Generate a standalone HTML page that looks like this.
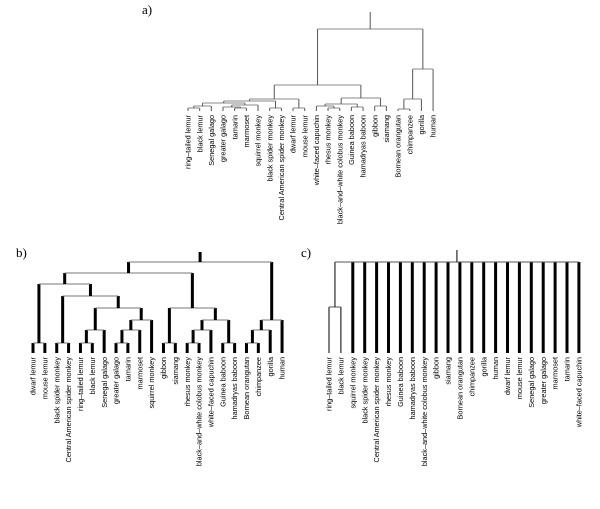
<!DOCTYPE html>
<html><head><meta charset="utf-8"><style>
html,body{margin:0;padding:0;background:#fff;}
svg{display:block;}
.lbl{font-family:"Liberation Sans",sans-serif;font-size:7.3px;fill:#000;}
.tag{font-family:"Liberation Serif",serif;font-size:13px;fill:#000;}
</style></head><body>
<svg id="fig" width="600" height="509" viewBox="0 0 600 509">
<text class="tag" x="142" y="14">a)</text>
<text class="tag" x="16" y="257">b)</text>
<text class="tag" x="301" y="257">c)</text>
<g id="pa"></g>
<g id="pb"></g>
<g id="pc"></g>
</svg>
<script>
// ---- data ----
const leavesA = ["ring\u2013tailed lemur","black lemur","Senegal galago","greater galago","tamarin","marmoset","squirrel monkey","black spider monkey","Central American spider monkey","dwarf lemur","mouse lemur","white\u2013faced capuchin","rhesus monkey","black\u2013and\u2013white colobus monkey","Guinea baboon","hamadryas baboon","gibbon","siamang","Bornean orangutan","chimpanzee","gorilla","human"];
// merges: [children (negative = leaf, positive = merge index 1-based), height]
const mergesA = [[[-1,-2],3],[[1,-3],5],[[-5,-6],3],[[-4,3],4],[[4,-7],6],[[2,5],8],[[-8,-9],3],[[6,7],10],[[-10,-11],3],[[8,9],12],[[-13,-14],3],[[-12,11],5],[[-15,-16],4],[[12,13],7],[[-17,-18],5],[[14,15],13],[[10,16],26],[[-19,-20],2],[[18,-21],12],[[19,-22],42],[[17,20],82]];
const rootStemA = 99;

const leavesB = ["dwarf lemur","mouse lemur","black spider monkey","Central American spider monkey","ring\u2013tailed lemur","black lemur","Senegal galago","greater galago","tamarin","marmoset","squirrel monkey","gibbon","siamang","rhesus monkey","black\u2013and\u2013white colobus monkey","white\u2013faced capuchin","Guinea baboon","hamadryas baboon","Bornean orangutan","chimpanzee","gorilla","human"];
const mergesB = [[[-1,-2],10],[[-3,-4],10],[[-5,-6],10],[[3,-7],23],[[-8,-9],10],[[5,-10],23],[[6,-11],33],[[4,7],45],[[2,8],57],[[1,9],69],[[-12,-13],10],[[-14,-15],10],[[12,-16],23],[[-17,-18],10],[[13,14],33],[[11,15],45],[[10,16],80],[[-19,-20],10],[[18,-21],23],[[19,-22],33],[[17,20],91]];
const rootStemB = 101;

const leavesC = ["ring\u2013tailed lemur","black lemur","squirrel monkey","black spider monkey","Central American spider monkey","rhesus monkey","Guinea baboon","hamadryas baboon","black\u2013and\u2013white colobus monkey","gibbon","siamang","Bornean orangutan","chimpanzee","gorilla","human","dwarf lemur","mouse lemur","Senegal galago","greater galago","marmoset","tamarin","white\u2013faced capuchin"];
const mergesC = [[[-1,-2],46],[[1,-3,-4,-5,-6,-7,-8,-9,-10,-11,-12,-13,-14,-15,-16,-17,-18,-19,-20,-21,-22],91]];
const rootStemC = 103;

// ---- drawing ----
const NS="http://www.w3.org/2000/svg";
function line(g,x1,y1,x2,y2,stroke,w,name){
  const l=document.createElementNS(NS,"line");
  l.setAttribute("x1",x1);l.setAttribute("y1",y1);l.setAttribute("x2",x2);l.setAttribute("y2",y2);
  l.setAttribute("stroke",stroke);l.setAttribute("stroke-width",w);
  
  
  g.appendChild(l);
}
function draw(gid,leaves,merges,stemTop,x0,dx,base,ky,opt){
  const g=document.getElementById(gid);
  const xs=i=>x0+i*dx;
  const ys=h=>base-h*ky;
  const pos={};
  merges.forEach((m,k)=>{
    const ch=m[0].map(c=>c<0?{x:xs(-c-1),y:base,leaf:true}:pos[c]);
    const y=ys(m[1]);
    const xsArr=ch.map(c=>c.x);
    const xmin=Math.min(...xsArr),xmax=Math.max(...xsArr);
    const x=(opt.flat?(xmin+xmax)/2:xsArr.reduce((a,b)=>a+b,0)/xsArr.length);
    ch.forEach(c=>{
      const thick = opt.thickLeafOnly ? (c.leaf && m[0].length>2) : true;
      line(g,c.x,y,c.x,c.y,opt.vcol,thick?opt.vw:1,"branch-vertical");
    });
    line(g,xmin,y,xmax,y,opt.hcol,1,"branch-horizontal");
    pos[k+1]={x:x,y:y};
  });
  const r=pos[merges.length];
  line(g,r.x,ys(stemTop),r.x,r.y,opt.vcol,opt.stemW,"root-stem");
  leaves.forEach((t,i)=>{
    const tx=document.createElementNS(NS,"text");
    tx.setAttribute("class","lbl");
    tx.setAttribute("text-anchor","end");
    tx.setAttribute("transform","translate("+(xs(i)+2.6)+","+(base+opt.lblGap)+") rotate(-90)");
    tx.textContent=t;
    
    
    g.appendChild(tx);
  });
}
draw("pa",leavesA,mergesA,rootStemA,188,11.67,111,1,{vcol:"#555",hcol:"#888",vw:1,stemW:1,lblGap:4,flat:false});
draw("pb",leavesB,mergesB,rootStemB,33,11.86,353,1,{vcol:"#000",hcol:"#777",vw:3,stemW:3,lblGap:4,flat:false});
draw("pc",leavesC,mergesC,rootStemC,329,11.9,353,1,{vcol:"#000",hcol:"#555",vw:3,stemW:1,lblGap:4,flat:true,thickLeafOnly:true});
</script>
</body></html>
